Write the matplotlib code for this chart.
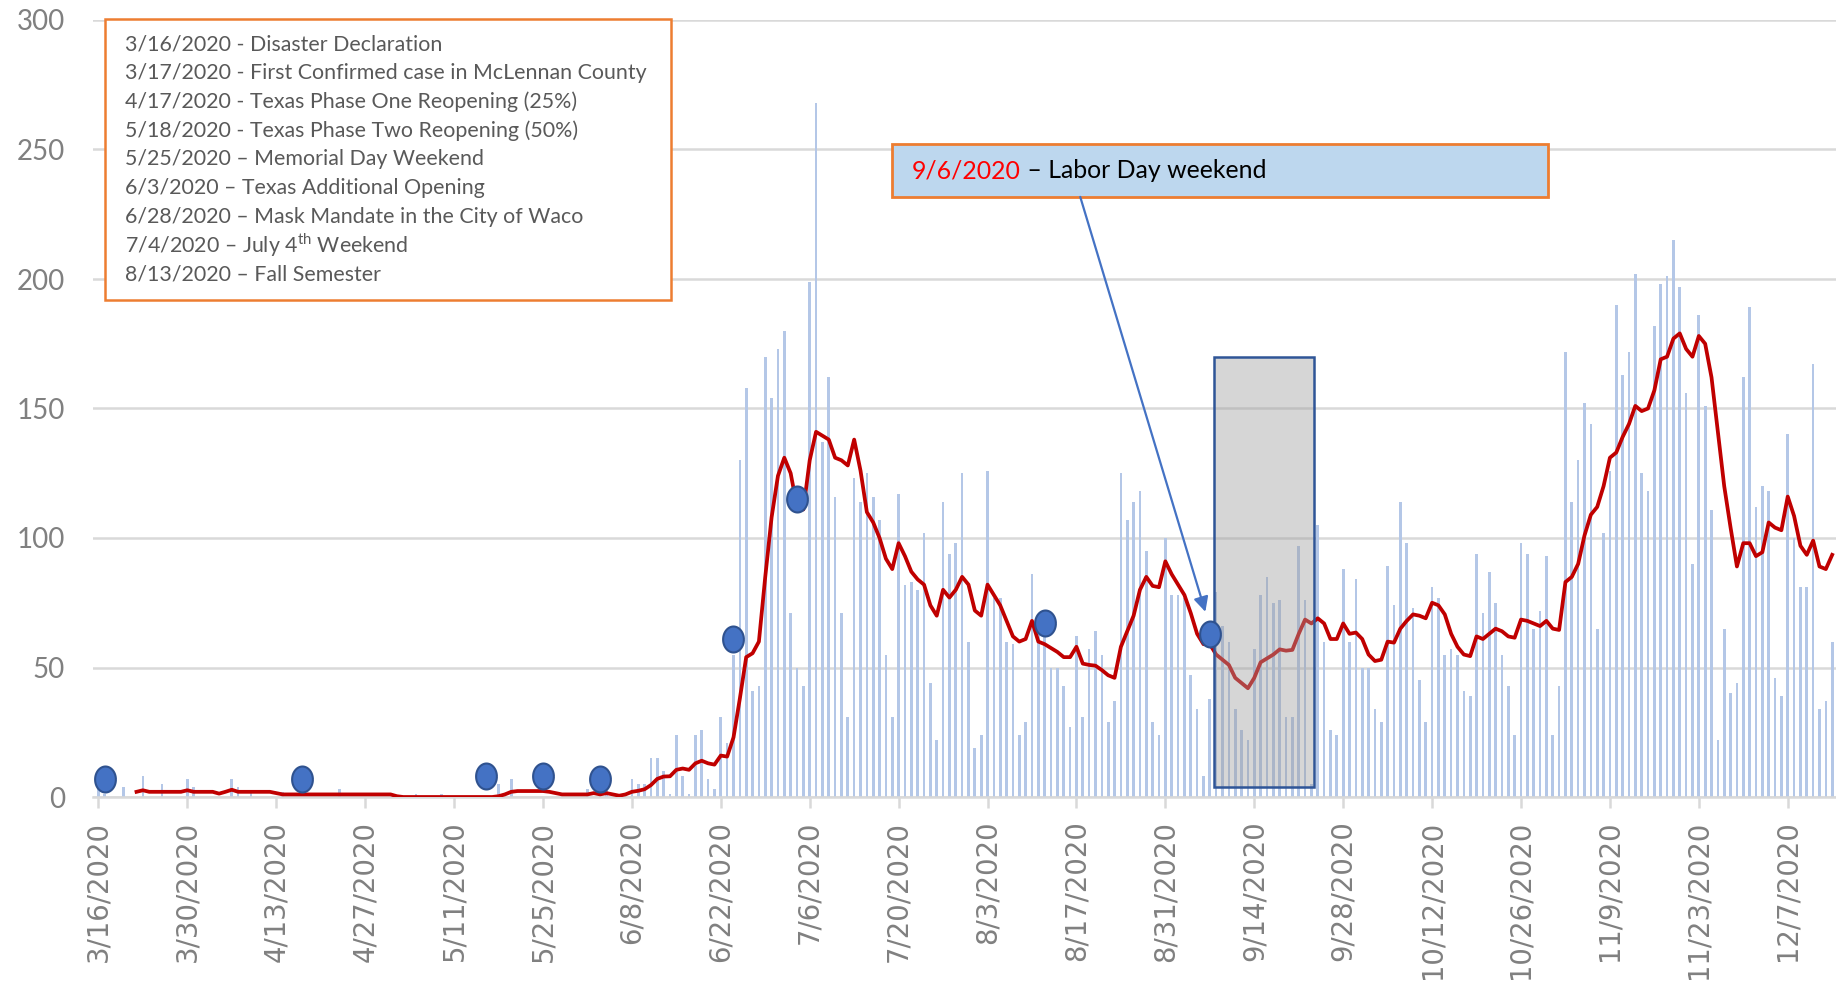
import numpy as np
import pandas as pd
import matplotlib
matplotlib.use("Agg")
import matplotlib.pyplot as plt
import matplotlib.dates as mdates
from matplotlib.patches import Rectangle
from matplotlib.path import Path

plt.rcParams['mathtext.fontset'] = 'custom'
plt.rcParams['mathtext.rm'] = 'Lato'

# ---------------- data ----------------
start_date = '2020-03-16'
daily_cases = [
    3, 1, 0, 0, 4, 0, 0, 8, 0, 0,
    5, 0, 0, 0, 7, 4, 0, 0, 0, 0,
    0, 7, 4, 0, 2, 0, 0, 0, 0, 2,
    0, 0, 0, 0, 0, 0, 0, 0, 3, 0,
    0, 0, 0, 0, 0, 0, 0, 0, 0, 0,
    1, 0, 0, 0, 1, 0, 0, 0, 0, 0,
    0, 0, 0, 5, 0, 7, 0, 0, 0, 0,
    0, 0, 0, 0, 0, 0, 0, 3, 0, 0,
    3, 0, 0, 0, 7, 5, 5, 15, 15, 10,
    1, 24, 8, 1, 24, 26, 7, 3, 31, 21,
    55, 130, 158, 41, 43, 170, 154, 173, 180, 71,
    50, 43, 199, 268, 137, 162, 116, 71, 31, 123,
    114, 125, 116, 107, 55, 31, 117, 82, 83, 80,
    102, 44, 22, 114, 94, 98, 125, 60, 19, 24,
    126, 77, 77, 60, 59, 24, 29, 86, 70, 65,
    50, 50, 43, 27, 62, 31, 57, 64, 55, 29,
    37, 125, 107, 114, 118, 95, 29, 24, 100, 78,
    78, 77, 47, 34, 8, 38, 79, 66, 60, 34,
    26, 22, 57, 78, 85, 75, 76, 31, 31, 97,
    76, 5, 105, 60, 26, 24, 88, 60, 84, 50,
    50, 34, 29, 89, 74, 114, 98, 73, 45, 29,
    81, 77, 55, 57, 55, 41, 39, 94, 71, 87,
    75, 55, 43, 24, 98, 94, 65, 72, 93, 24,
    43, 172, 114, 130, 152, 144, 65, 102, 126, 190,
    163, 172, 202, 125, 118, 182, 198, 201, 215, 197,
    156, 90, 186, 151, 111, 22, 65, 40, 44, 162,
    189, 112, 120, 118, 46, 39, 140, 100, 81, 81,
    167, 34, 37, 60,
]

avg_start_date = '2020-03-22'
moving_avg = [
    2, 2.6, 2, 2,
    2, 2, 2, 2, 2.6, 2, 2, 2, 2, 1.3,
    2, 2.8, 2, 2, 2, 2, 2, 2, 1.5, 1,
    1, 1, 1, 1, 1, 1, 1, 1, 1, 1,
    1, 1, 1, 1, 1, 1, 1, 0.3, 0, 0,
    0, 0, 0, 0, 0, 0, 0, 0, 0, 0,
    0, 0, 0, 0.3, 1, 2, 2.3, 2.3, 2.3, 2.3,
    2.3, 2, 1.5, 1, 1, 1, 1, 1, 1.5, 1,
    1.5, 1, 0.5, 1, 2, 2.4, 3, 4.6, 7, 7.9,
    8, 10.5, 11, 10.5, 13, 14, 13, 12.5, 16, 15.6,
    23, 38, 54, 55.5, 60, 85, 108, 124, 131, 125,
    112, 111, 130, 141, 139.5, 138, 131, 130, 128, 138,
    126, 110, 106, 100, 92, 88, 98, 93, 87, 84,
    82, 74, 70, 80, 77, 80, 85, 82, 72, 70,
    82, 78, 74, 68, 62, 60, 61, 68, 60, 59,
    57.5, 56, 54, 54, 58, 51.5, 51, 50.7, 49, 47,
    46, 58, 64, 70, 80, 85, 81.5, 81, 91, 86,
    82, 78, 71, 63, 59, 59, 55, 53, 51, 46,
    44, 42, 46, 52, 53.5, 55, 57, 56.5, 56.8, 63,
    68.5, 67, 69, 67, 61, 61, 67, 63, 63.5, 61,
    55, 52.5, 53, 60, 59.6, 65, 68, 70.5, 70, 69,
    75, 74, 70.5, 63, 58, 55, 54.4, 62, 61, 63,
    65, 64, 62, 61.5, 68.5, 68, 67, 66, 68, 65,
    64.5, 83, 85, 90, 101, 109, 112, 120, 131, 133,
    139, 144, 151, 149, 150, 157, 169, 170, 177, 179,
    173, 170, 178, 175, 162, 141, 120, 104, 89, 98,
    98, 93, 94.5, 106, 104, 103, 116, 108.5, 97, 93.5,
    99, 89, 88, 93.5,
]

event_dates = ['2020-03-17', '2020-04-17', '2020-05-16', '2020-05-25', '2020-06-03',
               '2020-06-24', '2020-07-04', '2020-08-12', '2020-09-07']
event_values = [7, 7, 8, 8, 7, 61, 115, 67, 63]

event_lines = [
    '3/16/2020 - Disaster Declaration',
    '3/17/2020 - First Confirmed case in McLennan County',
    '4/17/2020 - Texas Phase One Reopening (25%)',
    '5/18/2020 - Texas Phase Two Reopening (50%)',
    '5/25/2020 \u2013 Memorial Day Weekend',
    '6/3/2020 \u2013 Texas Additional Opening',
    '6/28/2020 \u2013 Mask Mandate in the City of Waco',
    '7/4/2020 \u2013 July 4$^{\\mathrm{th}}$ Weekend',
    '8/13/2020 \u2013 Fall Semester',
]
y_ticks = [0, 50, 100, 150, 200, 250, 300]

dates = pd.date_range(start_date, periods=len(daily_cases), freq='D')
avg_dates = pd.date_range(avg_start_date, periods=len(moving_avg), freq='D')
ev_dates = pd.to_datetime(event_dates)
tick_dates = pd.date_range(start_date, '2020-12-07', freq='14D')

# ---------------- figure ----------------
W, H = 1836, 988
fig = plt.figure(figsize=(W / 100, H / 100), dpi=100)
ax = fig.add_axes([92.7 / W, 191 / H, (W - 92.7) / W, 777 / H])

t0 = mdates.date2num(pd.Timestamp(start_date))
ax.set_xlim(t0 - 0.9, t0 + 273.6)
ax.set_ylim(0, 300)

ax.bar(dates, daily_cases, width=0.42, color='#b4c7e7', zorder=2)
ax.plot(avg_dates, moving_avg, color='#c00000', lw=2.7, zorder=3, solid_joinstyle='round')

theta = np.linspace(0, 2 * np.pi, 61)
ellipse = Path(np.column_stack([0.8 * np.cos(theta), np.sin(theta)]))
ax.plot(ev_dates, event_values, ls='none', marker=ellipse, ms=18.7,
        mfc='#4472c4', mec='#2f528f', mew=1.5, zorder=5)

# grey highlight window
ax.add_patch(Rectangle((t0 + 175.6, 4), 15.8, 166, facecolor=(0.62, 0.62, 0.62, 0.42),
                       edgecolor='#2f5597', lw=1.8, zorder=4))

# axes styling
for s in ['top', 'right', 'left']:
    ax.spines[s].set_visible(False)
ax.spines['bottom'].set_color('#d9d9d9')
ax.spines['bottom'].set_linewidth(1.8)
ax.yaxis.grid(True, color='#d9d9d9', lw=1.8)
ax.set_axisbelow(True)
ax.set_yticks(y_ticks)
ax.set_xticks(tick_dates)
ax.set_xticklabels([f'{d.month}/{d.day}/{d.year}' for d in tick_dates],
                   rotation=90, fontsize=19.8, color='#808080', family='DejaVu Sans')
ax.tick_params(axis='x', length=8, width=1.8, color='#d9d9d9', pad=9)
ax.tick_params(axis='y', length=0, pad=20, labelsize=20, labelcolor='#808080')
for lab in ax.get_yticklabels():
    lab.set_family('Lato')

# Labor Day call-out
ax.add_patch(Rectangle((t0 + 125, 231.7), 103.3, 20.3, facecolor='#bdd7ee',
                       edgecolor='#ed7d31', lw=2, zorder=6, clip_on=False))
t1 = ax.text(t0 + 128.1, 241.8, '9/6/2020', color='#ff0000', fontsize=17.9,
             family='Lato', va='center', ha='left', zorder=7)
ax.annotate(' \u2013 Labor Day weekend', xy=(1, 0), xycoords=t1, va='bottom', ha='left',
            fontsize=17.9, family='Lato', color='black', zorder=7)
ax.annotate('', xy=(t0 + 174.3, 71.5), xytext=(t0 + 154.6, 231.7),
            arrowprops=dict(arrowstyle='-|>', color='#4472c4', lw=1.6,
                            mutation_scale=22, shrinkA=0, shrinkB=0), zorder=6)

# events legend box (figure pixels)
def fx(x):
    return x / W

def fy(y):
    return 1 - y / H

fig.add_artist(Rectangle((fx(105), fy(300)), fx(671) - fx(105), fy(19) - fy(300),
                         transform=fig.transFigure, facecolor='white',
                         edgecolor='#ed7d31', lw=1.8, zorder=3))
for i, line in enumerate(event_lines):
    fig.text(fx(125), fy(44.5 + 28.7 * i), line, fontsize=15.4, family='Lato',
             color='#595959', va='center', ha='left', zorder=4)

fig.savefig('out.png', dpi=100)
